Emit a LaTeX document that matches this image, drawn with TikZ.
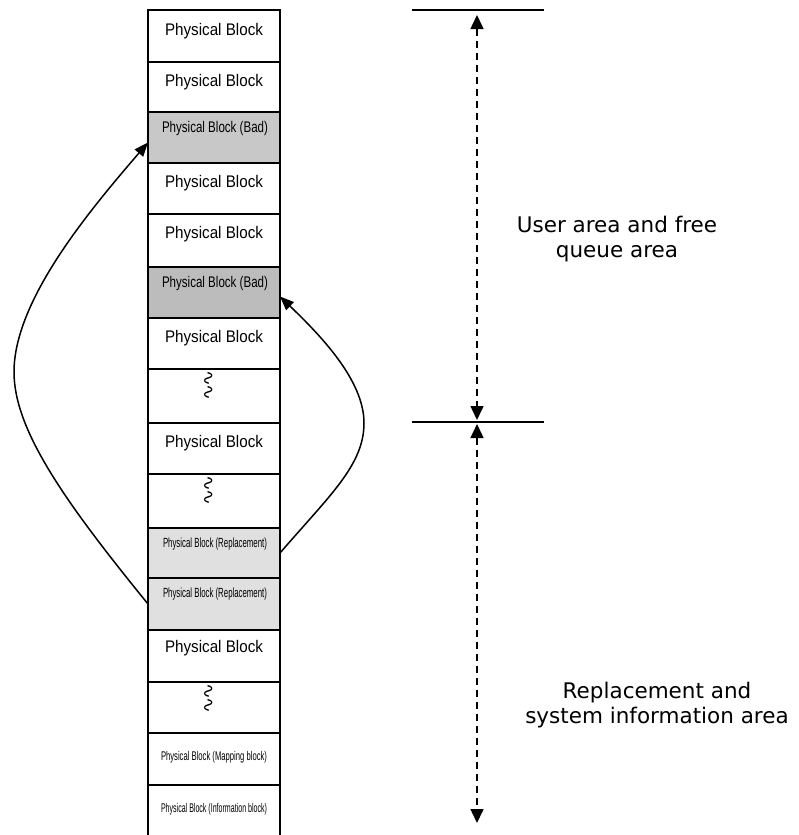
\documentclass[tikz,border=0pt]{standalone}
\usepackage{fontspec}
\setmainfont{Liberation Sans}
\newfontfamily\labfont{DejaVu Sans}
\usetikzlibrary{arrows.meta,calc}
\definecolor{badA}{RGB}{200,200,200}
\definecolor{badB}{RGB}{188,188,188}
\definecolor{repl}{RGB}{224,224,224}
\newcommand{\cellt}[3]{\resizebox{#1pt}{\height}{\fontsize{#2}{#2}\selectfont #3}}
\newcommand{\wavy}{\rotatebox{90}{\resizebox*{30pt}{9pt}{\labfont ∿\kern-0.12em∿}}}
\begin{document}
\begin{tikzpicture}[x=1pt,y=-1pt,
  cell/.style={draw, line width=1.8pt, minimum width=132pt, inner sep=0pt, outer sep=0pt},
  ctext/.style={anchor=base, inner sep=0pt},
  wave/.style={inner sep=0pt},
  arealabel/.style={anchor=north, inner sep=0pt, align=center, font=\labfont\fontsize{21.5}{25}\selectfont},
  hline/.style={line width=1.5pt},
  dimarrow/.style={line width=1.5pt, dash pattern=on 7pt off 5pt, {Triangle[width=13pt,length=14pt]}-{Triangle[width=13pt,length=14pt]}},
  curvearrow/.style={line width=1.5pt, -{Triangle[width=11pt,length=14pt]}}]
\useasboundingbox (0,0) rectangle (798,835);
% cells
\foreach \n/\t/\b/\f in {1/10/62/white, 2/62/112/white, 3/112/163/badA, 4/163/214/white,
  5/214/267/white, 6/267/318/badB, 7/318/369/white, 8/369/423/white, 9/423/474/white,
  10/474/528/white, 11/528/578/repl, 12/578/630/repl, 13/630/682/white, 14/682/733/white,
  15/733/785/white, 16/785/837/white}
  \node[cell, fill=\f, minimum height={(\b-\t)*1pt}] (r\n) at (214,{(\t+\b)/2}) {};
% cell texts
\node[ctext] (t1) at (214,35) {\cellt{98}{16.8}{Physical Block}};
\node[ctext] (t2) at (214,86) {\cellt{98}{16.8}{Physical Block}};
\node[ctext] (t3) at (215,132) {\cellt{106}{15.4}{Physical Block (Bad)}};
\node[ctext] (t4) at (214,187) {\cellt{98}{16.8}{Physical Block}};
\node[ctext] (t5) at (214,238) {\cellt{98}{16.8}{Physical Block}};
\node[ctext] (t6) at (215,287) {\cellt{106}{15.4}{Physical Block (Bad)}};
\node[ctext] (t7) at (214,342) {\cellt{98}{16.8}{Physical Block}};
\node[wave] (w8) at (209,385) {\wavy};
\node[ctext] (t9) at (214,447) {\cellt{98}{16.8}{Physical Block}};
\node[wave] (w10) at (209,490) {\wavy};
\node[ctext] (t11) at (215,547) {\cellt{104}{13.3}{Physical Block (Replacement)}};
\node[ctext] (t12) at (215,597) {\cellt{104}{13.3}{Physical Block (Replacement)}};
\node[ctext] (t13) at (214,652) {\cellt{98}{16.8}{Physical Block}};
\node[wave] (w14) at (209,698) {\wavy};
\node[ctext] (t15) at (214,760) {\cellt{106}{12.6}{Physical Block (Mapping block)}};
\node[ctext] (t16) at (214,812) {\cellt{106}{12.6}{Physical Block (Information block)}};
% curved arrows
\draw[curvearrow] (r12.west) .. controls (65,502) and (14,430) .. (14,372)
  .. controls (14,300) and (90,210) .. ([yshift=-5pt]r3.west);
\draw[curvearrow] (r11.east) .. controls (330,495) and (364,465) .. (364,423)
  .. controls (364,380) and (320,335) .. ([yshift=-4pt]r6.east);
% right side
\coordinate (h1a) at (412,10);
\coordinate (h1b) at (544,10);
\coordinate (h2a) at (412,422);
\coordinate (h2b) at (544,422);
\coordinate (d1) at (477,15);
\coordinate (d2) at (477,420);
\coordinate (d3) at (477,424);
\coordinate (d4) at (477,823);
\draw[hline] (h1a) -- (h1b);
\draw[hline] (h2a) -- (h2b);
\draw[dimarrow] (d1) -- (d2);
\draw[dimarrow] (d3) -- (d4);
\node[arealabel] (lab1) at (617,216) {User area and free\\queue area};
\node[arealabel] (lab2) at (657,682) {Replacement and\\system information area};
\end{tikzpicture}
\end{document}
